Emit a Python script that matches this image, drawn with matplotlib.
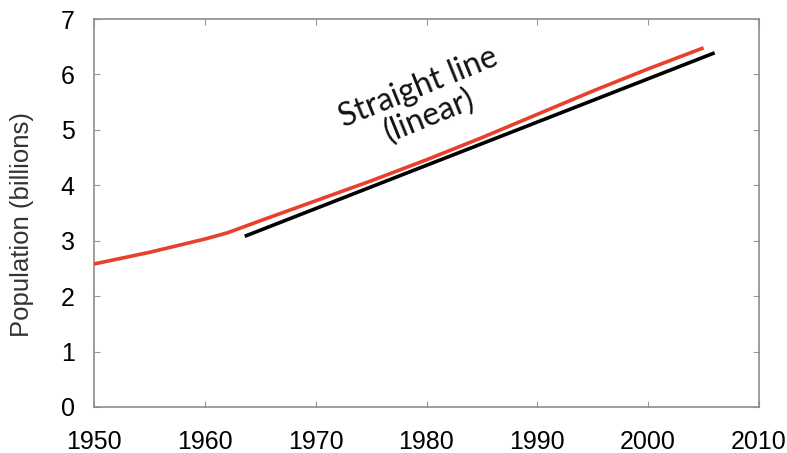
import matplotlib
matplotlib.use("Agg")
import matplotlib.pyplot as plt

plt.rcParams["font.family"] = ["Liberation Sans", "DejaVu Sans"]

# World population (billions)
years = [1950, 1955, 1960, 1962, 1965, 1970, 1975, 1980, 1985, 1990, 1995, 2000, 2005]
population = [2.58, 2.79, 3.03, 3.14, 3.36, 3.72, 4.08, 4.46, 4.86, 5.28, 5.70, 6.10, 6.48]

# Linear trend segment
trend_years = [1963.6, 2006.0]
trend_values = [3.08, 6.39]

x_ticks = [1950, 1960, 1970, 1980, 1990, 2000, 2010]
y_ticks = [0, 1, 2, 3, 4, 5, 6, 7]

fig = plt.figure(figsize=(7.87, 4.53), dpi=100)
ax = fig.add_axes([94 / 787, 1 - 407 / 453, (759 - 94) / 787, (407 - 19) / 453])

ax.plot(years, population, color="#e8402a", lw=2.6, solid_capstyle="butt", zorder=3)
ax.plot(trend_years, trend_values, color="black", lw=2.6, solid_capstyle="butt", zorder=2)

ax.set_xlim(1950, 2010)
ax.set_ylim(0, 7)
ax.set_xticks(x_ticks)
ax.set_yticks(y_ticks)
ax.tick_params(direction="in", length=4, width=0.8, color="#999999",
               labelsize=18, top=True, right=True)
ax.tick_params(axis="x", pad=16.5)
ax.tick_params(axis="y", pad=14)
for s in ax.spines.values():
    s.set_color("#8c8c8c")
    s.set_linewidth(1.2)

ax.set_ylabel("Population (billions)", fontsize=18.5, color="#333333")
ax.yaxis.set_label_coords(-0.09, 0.47)

ax.text(1979.75, 5.5, "Straight line\n(linear)", fontsize=23, family=["Lato", "DejaVu Sans"],
        rotation=22, ha="center", va="center", linespacing=1.0,
        rotation_mode="anchor", color="#111111")

fig.savefig("out.png", dpi=100)
